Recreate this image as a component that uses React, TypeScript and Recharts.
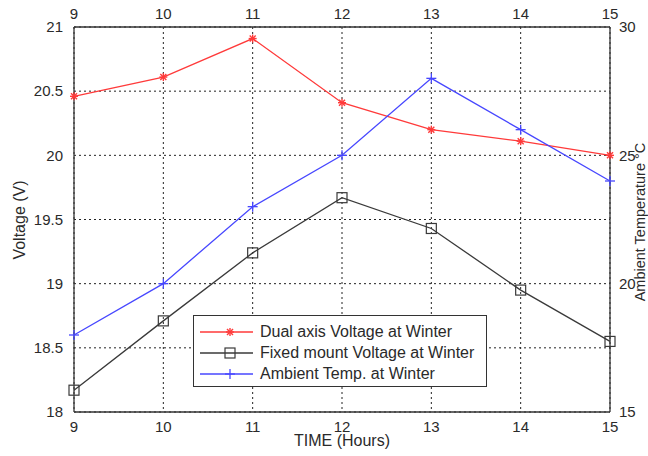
import { CartesianGrid, Label, Line, LineChart, XAxis, YAxis } from "recharts"

const hours = [9, 10, 11, 12, 13, 14, 15]
const dualAxisVoltage = [20.46, 20.61, 20.91, 20.41, 20.2, 20.11, 20.0]
const fixedMountVoltage = [18.17, 18.71, 19.24, 19.67, 19.43, 18.95, 18.55]
const ambientTemp = [18, 20, 23, 25, 28, 26, 24]
const voltageTicks = [18, 18.5, 19, 19.5, 20, 20.5, 21]
const tempTicks = [15, 20, 25, 30]

const rows = hours.map((hour, i) => ({
  hour,
  dual: dualAxisVoltage[i],
  fixed: fixedMountVoltage[i],
  temp: ambientTemp[i],
}))

const RED = "#ff3a3a"
const BLACK = "#3a3a3a"
const BLUE = "#4747ff"
const TEXT = "#2a2a2a"
const FONT = "'Liberation Sans', Arial, sans-serif"

type Marker = "star" | "square" | "plus"

function markerShape(kind: Marker, color: string, cx: number, cy: number, key?: string) {
  if (kind === "square") {
    return <rect key={key} x={cx - 5} y={cy - 5} width={10} height={10} fill="none" stroke={color} strokeWidth={1.2} />
  }
  if (kind === "plus") {
    return (
      <g key={key} stroke={color} strokeWidth={1.3}>
        <line x1={cx - 5} y1={cy} x2={cx + 5} y2={cy} />
        <line x1={cx} y1={cy - 5} x2={cx} y2={cy + 5} />
      </g>
    )
  }
  return (
    <g key={key} stroke={color} strokeWidth={1.4}>
      <line x1={cx - 4} y1={cy} x2={cx + 4} y2={cy} />
      <line x1={cx} y1={cy - 4} x2={cx} y2={cy + 4} />
      <line x1={cx - 3} y1={cy - 3} x2={cx + 3} y2={cy + 3} />
      <line x1={cx - 3} y1={cy + 3} x2={cx + 3} y2={cy - 3} />
    </g>
  )
}

const makeDot = (kind: Marker, color: string) => (props: any) =>
  markerShape(kind, color, props.cx, props.cy, `${kind}-${props.index}`)

const series = [
  { key: "dual", name: "Dual axis Voltage at Winter", color: RED, marker: "star" as Marker, axis: 0 as any },
  { key: "fixed", name: "Fixed mount Voltage at Winter", color: BLACK, marker: "square" as Marker, axis: 0 as any },
  { key: "temp", name: "Ambient Temp. at Winter", color: BLUE, marker: "plus" as Marker, axis: "temp" },
]

const tick = { fill: TEXT, fontSize: 15, fontFamily: FONT }

function RotatedLabel({ text, x, y, angle, size = 16 }: { text: string; x: number; y: number; angle: number; size?: number }) {
  return (
    <text
      x={x}
      y={y}
      transform={`rotate(${angle} ${x} ${y})`}
      textAnchor="middle"
      dominantBaseline="central"
      fill={TEXT}
      fontSize={size}
      fontFamily={FONT}
    >
      {text}
    </text>
  )
}

function LegendBox() {
  return (
    <div
      style={{
        position: "absolute",
        left: 193,
        top: 315,
        width: 294,
        height: 72,
        border: "1.3px solid #333",
        background: "#fff",
        boxSizing: "border-box",
        padding: "5px 0 0 0",
        fontFamily: FONT,
        fontSize: 16,
        color: TEXT,
      }}
    >
      {series.map((s) => (
        <div key={s.key} style={{ display: "flex", alignItems: "center", height: 21 }}>
          <svg width={56} height={14} style={{ marginLeft: 4, marginRight: 6 }}>
            <line x1={2} y1={7} x2={55} y2={7} stroke={s.color} strokeWidth={1.3} />
            {markerShape(s.marker, s.color, 32, 7)}
          </svg>
          <span>{s.name}</span>
        </div>
      ))}
    </div>
  )
}

export default function App() {
  return (
    <div style={{ position: "absolute", left: 0, top: 0, width: 648, height: 456, background: "#fff" }}>
      <LineChart width={648} height={456} data={rows} margin={{ top: 7, right: 8, bottom: 14, left: 14 }}>
        <CartesianGrid stroke="#222" strokeDasharray="2 3" strokeWidth={1} />
        <XAxis
          dataKey="hour"
          type="number"
          domain={[9, 15]}
          ticks={hours}
          height={30}
          tick={tick}
          tickLine={false}
          axisLine={{ stroke: "#333", strokeWidth: 1.3 }}
          tickMargin={3}
        >
          <Label content={() => <RotatedLabel text="TIME (Hours)" x={342} y={440} angle={0} />} />
        </XAxis>
        <XAxis
          xAxisId="top"
          orientation="top"
          dataKey="hour"
          type="number"
          domain={[9, 15]}
          ticks={hours}
          height={20}
          tick={tick}
          tickLine={false}
          axisLine={{ stroke: "#333", strokeWidth: 1.3 }}
          tickMargin={2}
        />
        <YAxis
          domain={[18, 21]}
          ticks={voltageTicks}
          width={60}
          tick={tick}
          tickLine={false}
          axisLine={{ stroke: "#333", strokeWidth: 1.3 }}
          tickMargin={5}
        >
          <Label content={() => <RotatedLabel text="Voltage (V)" x={19} y={220} angle={-90} />} />
        </YAxis>
        <YAxis
          yAxisId="temp"
          orientation="right"
          domain={[15, 30]}
          ticks={tempTicks}
          width={30}
          tick={tick}
          tickLine={false}
          axisLine={{ stroke: "#333", strokeWidth: 1.3 }}
          tickMargin={3}
        >
          <Label content={() => <RotatedLabel text="Ambient Temperature °C" x={640} y={222} angle={-90} size={14.5} />} />
        </YAxis>
        {series.map((s) => (
          <Line
            key={s.key}
            dataKey={s.key}
            name={s.name}
            yAxisId={s.axis}
            stroke={s.color}
            strokeWidth={1.3}
            dot={makeDot(s.marker, s.color)}
            activeDot={false}
            isAnimationActive={false}
          />
        ))}
      </LineChart>
      <LegendBox />
    </div>
  )
}
